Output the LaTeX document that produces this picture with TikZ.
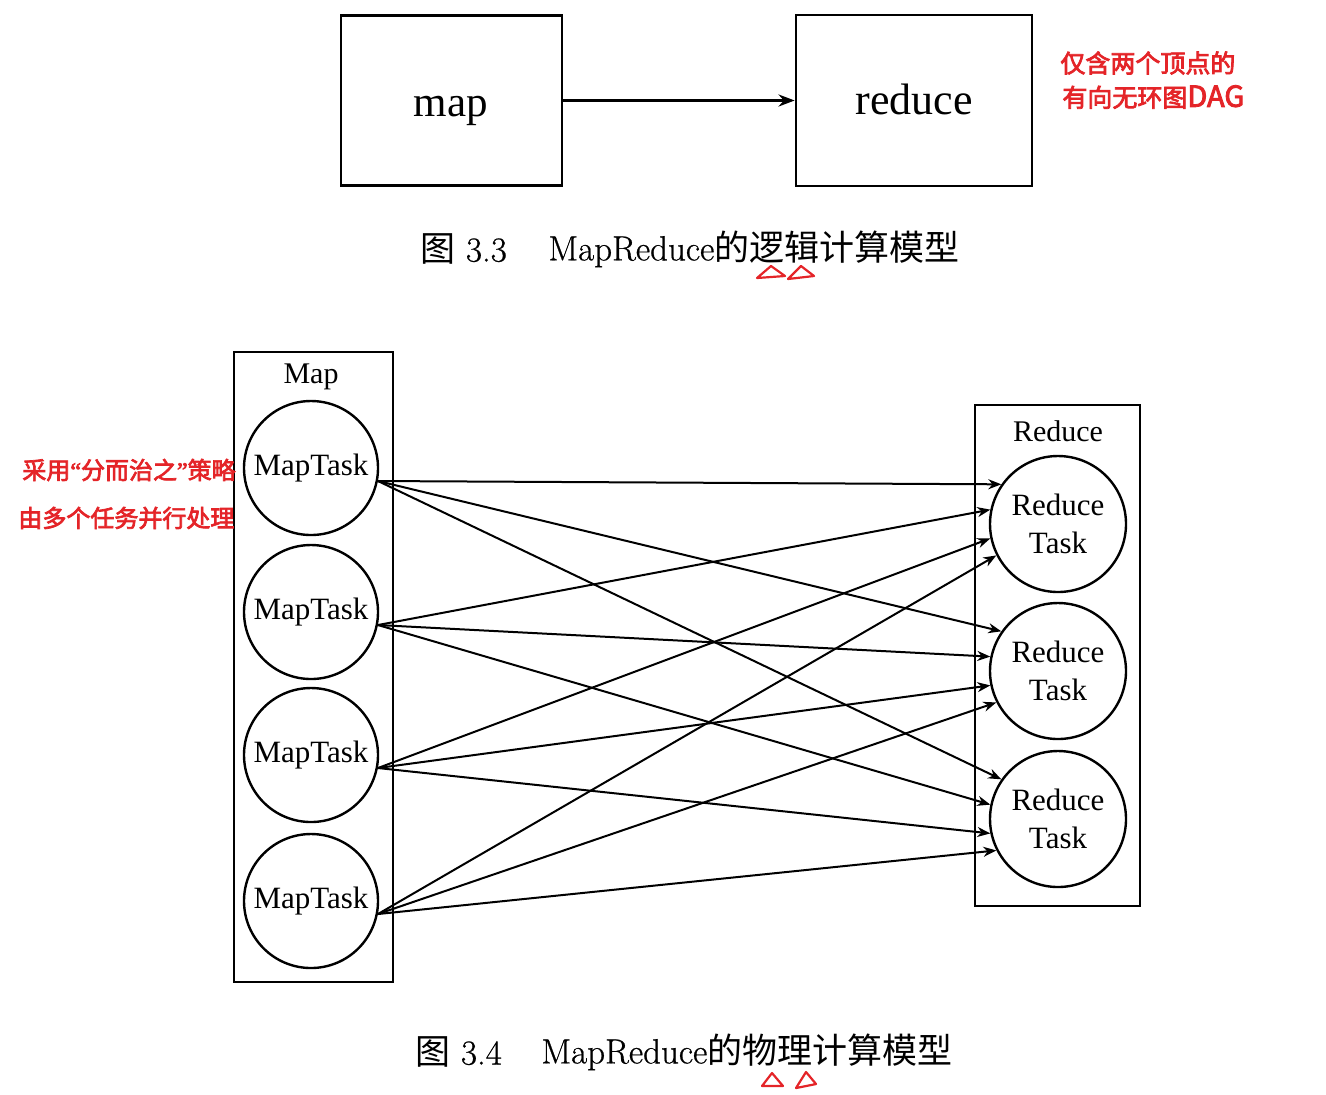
\documentclass[tikz,border=0pt]{standalone}
\usepackage{fontspec}
\usetikzlibrary{arrows.meta}
\newfontfamily\dsfont{Liberation Serif}
\newfontfamily\lmcap{Latin Modern Roman}[FakeBold=0.6]
\newfontfamily\cjk{Noto Sans CJK SC}
\newfontfamily\hand{Noto Sans CJK SC}[FakeBold=3]
\newfontfamily\handq{Liberation Serif}[FakeBold=3]
\definecolor{pen}{RGB}{228,36,40}
\begin{document}
\begin{tikzpicture}[x=0.5pt,y=-0.5pt,
  box/.style={draw,line width=1.4pt,inner sep=0pt},
  lbl/.style={font=\dsfont\fontsize{15}{17}\selectfont,align=center,inner sep=0pt},
  task/.style={draw,circle,line width=1.2pt,inner sep=0pt,font=\dsfont\fontsize{15.5}{19}\selectfont,align=center},
  conn/.style={line width=1pt,-{Stealth[length=6.5pt,width=5pt]}},
  capt/.style={anchor=west,inner sep=0pt,font=\lmcap\fontsize{17.5}{20}\selectfont},
  note/.style={anchor=west,inner sep=0pt,text=pen,font=\hand\fontsize{12.5}{14}\selectfont},
  tri/.style={draw=pen,line width=1.1pt,line join=round}
]
\useasboundingbox (0,0) rectangle (1326,1094);

% ---- Figure 3.3 ----
\node[box,minimum width=110.5pt,minimum height=85pt] (map) at (451.5,100.5) {};
\node[box,minimum width=118pt,minimum height=85.5pt] (red) at (914,100.5) {};
\node[anchor=base,inner sep=0pt,font=\dsfont\fontsize{21.5}{24}\selectfont] (maptxt) at (451,116) {map};
\node[anchor=base,inner sep=0pt,font=\dsfont\fontsize{22}{24}\selectfont] (redtxt) at (914,114) {reduce};
\draw[line width=1.4pt,-{Stealth[length=8pt,width=6pt]}] (map) -- (red);

\node[capt] (c33a) at (420,249) {{\cjk 图} 3.3};
\node[capt] (c33b) at (548,249) {MapReduce{\cjk 的逻辑计算模型}};

\node[note] (n1) at (1060,63) {仅含两个顶点的};
\node[note] (n2) at (1062,97) {有向无环图{\fontsize{14.5}{14}\selectfont DAG}};
\draw[tri] (757,278) -- (771,266) -- (785,276) -- cycle;
\draw[tri] (788,279) -- (801,266) -- (814,276) -- cycle;

% ---- Figure 3.4 ----
\node[box,minimum width=79.5pt,minimum height=315pt] (mapbox) at (313.5,667) {};
\node[lbl] (maplbl) at (311,377) {Map};
\node[task,minimum size=67pt] (mt1) at (311,468) {MapTask};
\node[task,minimum size=67pt] (mt2) at (311,612) {MapTask};
\node[task,minimum size=67pt] (mt3) at (311,755) {MapTask};
\node[task,minimum size=67pt] (mt4) at (311,901) {MapTask};

\node[box,minimum width=82.5pt,minimum height=250.5pt] (redbox) at (1057.5,655.5) {};
\node[lbl] (redlbl) at (1058,431) {Reduce};
\node[task,minimum size=68pt] (rt1) at (1058,524) {Reduce\\Task};
\node[task,minimum size=68pt] (rt2) at (1058,671) {Reduce\\Task};
\node[task,minimum size=68pt] (rt3) at (1058,819) {Reduce\\Task};

\foreach \m/\a in {1/145,2/168,3/192,4/207}{
  \foreach \r in {1,2,3}{
    \draw[conn] (mt\m.-11) -- (rt\r.\a);
  }
}

\node[capt] (c34a) at (415,1052) {{\cjk 图} 3.4};
\node[capt] (c34b) at (541,1052) {MapReduce{\cjk 的物理计算模型}};

\node[note,font=\hand\fontsize{12}{14}\selectfont] (n3) at (22,470) {采用{\handq“}分而治之{\handq”}策略};
\node[note,font=\hand\fontsize{12}{14}\selectfont] (n4) at (18,518) {由多个任务并行处理};
\draw[tri] (762,1086) -- (772,1073) -- (783,1086) -- cycle;
\draw[tri] (796,1088) -- (806,1072) -- (816,1084) -- cycle;
\end{tikzpicture}
\end{document}
